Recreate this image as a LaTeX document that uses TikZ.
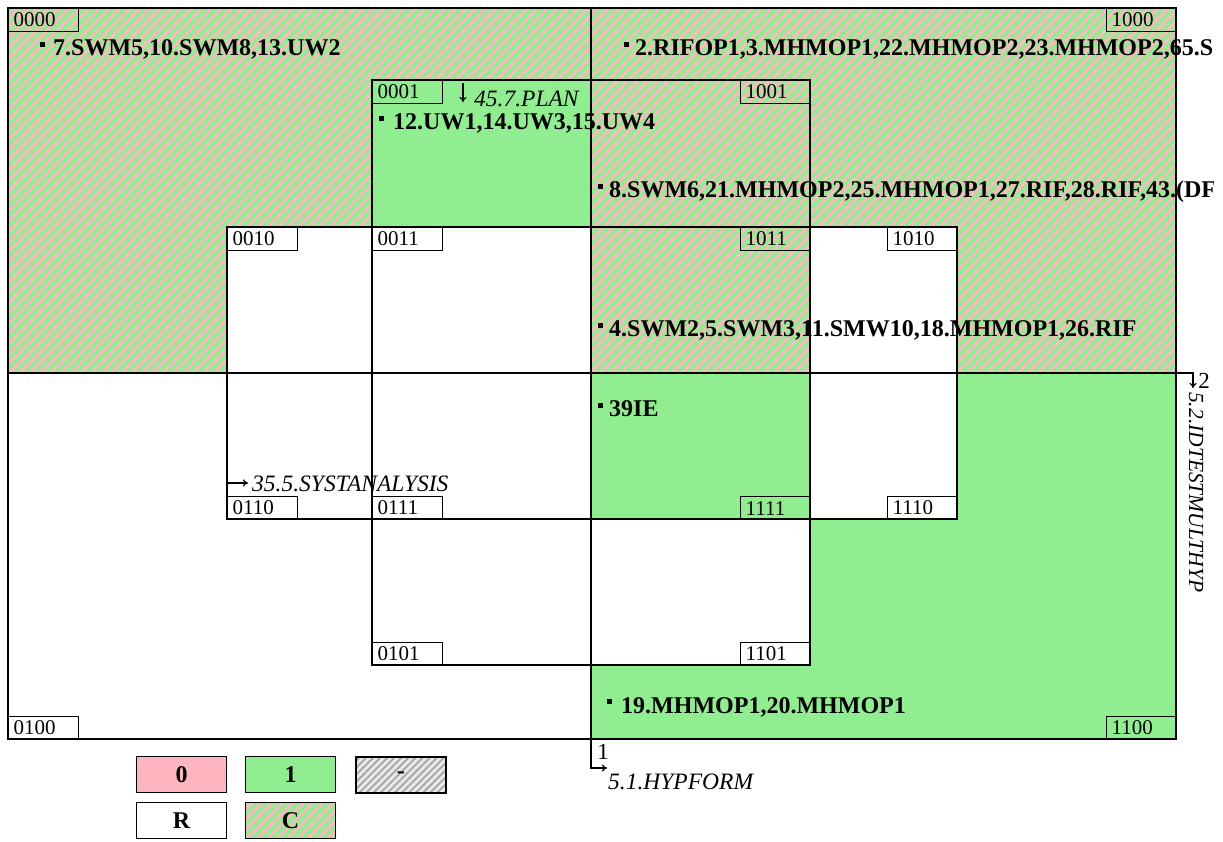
\documentclass[tikz,border=0pt]{standalone}
\usepackage{fontspec}
\setmainfont{Liberation Serif}
\usetikzlibrary{patterns.meta,arrows.meta}
\definecolor{pinkc}{HTML}{FFB6C1}
\definecolor{greenc}{HTML}{90EE90}
\definecolor{grayc}{HTML}{D3D3D3}
\begin{document}
\begin{tikzpicture}[x=1pt,y=-1pt,
  border/.style={draw=black,line width=1.4pt},
  hatchC/.style={pattern={Lines[angle=45,distance=7.2pt,line width=3pt]},pattern color=pinkc},
  hatchG/.style={pattern={Lines[angle=45,distance=5pt,line width=1.8pt]},pattern color=gray!70},
  codebox/.style={draw=black,line width=1.2pt,anchor=north west,minimum height=23pt,text width=60pt,inner xsep=5pt,inner ysep=0pt,align=left,font=\fontsize{21}{22}\selectfont},
  item/.style={anchor=base west,inner sep=0pt,font=\fontsize{24}{26}\selectfont\bfseries},
  ital/.style={anchor=base west,inner sep=0pt,font=\fontsize{23.5}{25}\selectfont\itshape},
  plain/.style={inner sep=0pt,font=\fontsize{23}{24}\selectfont},
  bul/.style={fill=black,inner sep=0pt,minimum size=5pt},
  arr/.style={line width=1.2pt,-{To[length=5pt,width=7pt]}},
  legbox/.style={draw=black,line width=1.2pt,anchor=north west,minimum width=90pt,minimum height=36pt,inner sep=0pt,font=\fontsize{24}{26}\selectfont\bfseries},
]
\useasboundingbox (0,0) rectangle (1223,841);
% region fills
\fill[greenc] (8,8) rectangle (1176,373);
\path[hatchC] (8,8) rectangle (1176,373);
\fill[greenc] (372,80) rectangle (591,227);
\fill[white] (227,227) rectangle (591,373);
\fill[white] (810,227) rectangle (957,373);
\fill[greenc] (8,373) rectangle (1176,739);
\fill[white] (8,373) rectangle (591,739);
\fill[white] (810,373) rectangle (957,519);
\fill[white] (591,519) rectangle (810,665);
% outlines
\draw[border] (8,8) rectangle (1176,739);
\draw[border] (372,80) rectangle (810,665);
\draw[border] (227,227) rectangle (957,519);
% axis lines with arrows
\coordinate (vtop) at (591,8);
\coordinate (vbend) at (591,768);
\coordinate (vend) at (607,768);
\draw[border,arr] (vtop) -- (vbend) -- (vend);
\coordinate (hleft) at (8,373);
\coordinate (hbend) at (1193,373);
\coordinate (hend) at (1193,388);
\draw[border,arr] (hleft) -- (hbend) -- (hend);
% code boxes
\node[codebox] (c0000) at (8,8) {0000};
\node[codebox] (c1000) at (1106,8) {1000};
\node[codebox] (c0100) at (8,716) {0100};
\node[codebox] (c1100) at (1106,716) {1100};
\node[codebox] (c0001) at (372,80) {0001};
\node[codebox] (c1001) at (740,80) {1001};
\node[codebox] (c0011) at (372,227) {0011};
\node[codebox] (c1011) at (740,227) {1011};
\node[codebox] (c0010) at (227,227) {0010};
\node[codebox] (c1010) at (887,227) {1010};
\node[codebox] (c0110) at (227,496) {0110};
\node[codebox] (c0111) at (372,496) {0111};
\node[codebox] (c1111) at (740,496) {1111};
\node[codebox] (c1110) at (887,496) {1110};
\node[codebox] (c0101) at (372,642) {0101};
\node[codebox] (c1101) at (740,642) {1101};
% items
\node[bul] (b1) at (42,44) {};
\node[item] (t1) at (53,55) {7.SWM5,10.SWM8,13.UW2};
\node[bul] (b3) at (381,118) {};
\node[item] (t3) at (393,129) {12.UW1,14.UW3,15.UW4};
\node[bul] (b2) at (626,44) {};
\node[bul] (b4) at (600,186) {};
\begin{scope}
\clip (0,0) rectangle (1213,841);
\node[item] (t2) at (635,55) {2.RIFOP1,3.MHMOP1,22.MHMOP2,23.MHMOP2,65.S};
\node[item] (t4) at (609,197) {8.SWM6,21.MHMOP2,25.MHMOP1,27.RIF,28.RIF,43.(DF};
\end{scope}
\node[bul] (b5) at (600,325) {};
\node[item] (t5) at (609,336) {4.SWM2,5.SWM3,11.SMW10,18.MHMOP1,26.RIF};
\node[bul] (b6) at (600,405) {};
\node[item] (t6) at (609,416) {39IE};
\node[bul] (b7) at (609,701) {};
\node[item] (t7) at (621,713) {19.MHMOP1,20.MHMOP1};
% italic labels
\coordinate (pa) at (463,83);
\coordinate (pb) at (463,102);
\draw[arr] (pa) -- (pb);
\node[ital] (plan) at (474,106) {45.7.PLAN};
\coordinate (sa) at (227,483);
\coordinate (sb) at (248,483);
\draw[arr] (sa) -- (sb);
\node[ital] (syst) at (252,491) {35.5.SYSTANALYSIS};
\node[plain] (one) at (603,752) {1};
\node[ital] (hyp) at (608,789) {5.1.HYPFORM};
\node[plain] (two) at (1204,381) {2};
\node[ital,rotate=-90,font=\fontsize{21.5}{23}\selectfont\itshape] (idt) at (1189,392) {5.2.IDTESTMULTHYP};
% legend
\node[legbox,fill=pinkc] (l0) at (136,756) {0};
\node[legbox,fill=greenc] (l1) at (245,756) {1};
\node[legbox,preaction={fill=grayc!50},hatchG] (ld) at (355,756) {-};
\node[legbox,fill=white] (lr) at (136,802) {R};
\node[legbox,preaction={fill=greenc},hatchC] (lc) at (245,802) {C};
\end{tikzpicture}
\end{document}
